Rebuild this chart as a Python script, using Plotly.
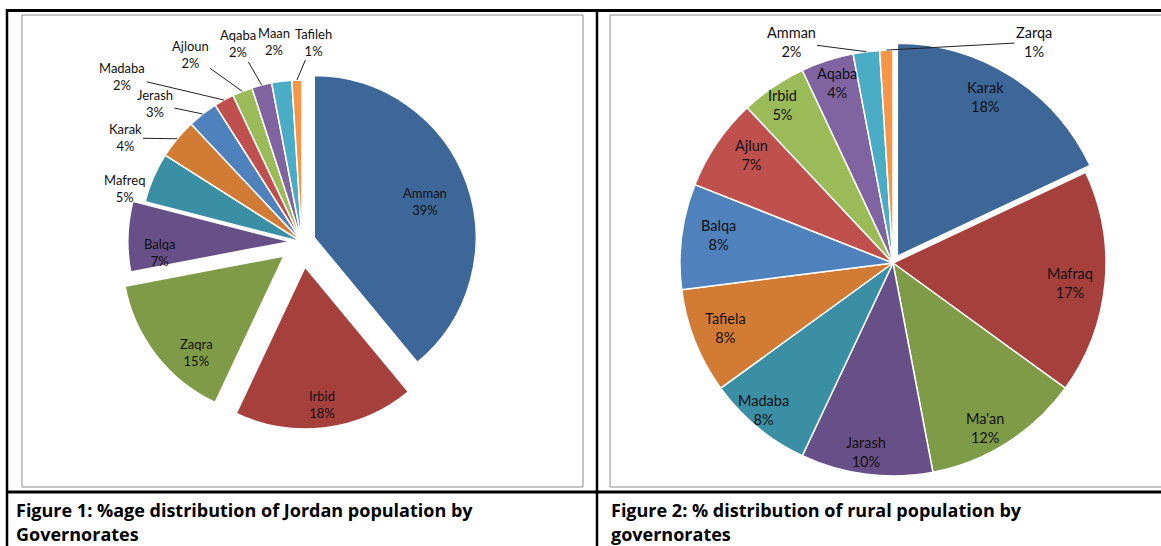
import math
import plotly.graph_objects as go

W, H = 1161, 546

# ---------------- data ----------------
left_labels = ["Amman", "Irbid", "Zaqra", "Balqa", "Mafreq", "Karak", "Jerash",
               "Madaba", "Ajloun", "Aqaba", "Maan", "Tafileh"]
left_values = [39, 18, 15, 7, 5, 4, 3, 2, 2, 2, 2, 1]

right_labels = ["Karak", "Mafraq", "Ma'an", "Jarash", "Madaba", "Tafiela", "Balqa",
                "Ajlun", "Irbid", "Aqaba", "Amman", "Zarqa"]
right_values = [18, 17, 12, 10, 8, 8, 8, 7, 5, 4, 2, 1]

caption1 = ["Figure 1: %age distribution of Jordan population by", "Governorates"]
caption2 = ["Figure 2: % distribution of rural population by", "governorates"]

# ---------------- style ----------------
left_pull = [0.08, 0.155, 0.14, 0.075, 0, 0, 0, 0, 0, 0, 0, 0]
right_pull = [0.038, 0, 0, 0, 0, 0, 0, 0, 0, 0, 0, 0]

dark = ["#3D6798", "#A5403D", "#7F9B48", "#674F87", "#3A8FA5", "#D27B34"]
std = ["#4F81BD", "#C0504D", "#9BBB59", "#8064A2", "#4BACC6", "#F79646"]
colors = dark + std

FONT = "Lato"
CAP_FONT = "Open Sans"
L_CX, L_CY, L_R = 302, 242, 162
R_CX, R_CY, R_R = 893, 263, 213

# label centres (px) and whether a leader line to the slice is drawn
left_lab_pos = {
    "Amman": (425, 201, False),
    "Irbid": (322, 404, False),
    "Zaqra": (196, 352, False),
    "Balqa": (160, 252, False),
    "Mafreq": (124, 188, False),
    "Karak": (125, 138, True),
    "Jerash": (155, 104, True),
    "Madaba": (122, 76, True),
    "Ajloun": (190, 54, True),
    "Aqaba": (238, 44, True),
    "Maan": (274, 42, False),
    "Tafileh": (313, 42, True),
}
right_lab_pos = {
    "Karak": (985, 97, False),
    "Mafraq": (1070, 283, False),
    "Ma'an": (985, 428, False),
    "Jarash": (866, 452, False),
    "Madaba": (763, 410, False),
    "Tafiela": (725, 328, False),
    "Balqa": (718, 235, False),
    "Ajlun": (751, 155, False),
    "Irbid": (782, 105, False),
    "Aqaba": (837, 83, False),
    "Amman": (791, 42, True),
    "Zarqa": (1034, 42, True),
}


def px(x):
    return x / W


def py(y):
    return 1 - y / H


def pie_domain(cx, cy, r, pulls):
    half = r * (1 + max(pulls))
    return dict(x=[px(cx - half), px(cx + half)], y=[py(cy + half), py(cy - half)])


def edge_point(values, idx, cx, cy, r, pulls):
    total = sum(values)
    frac = (sum(values[:idx]) + values[idx] / 2) / total
    a = 2 * math.pi * frac
    rr = r * (1 + pulls[idx])
    return cx + rr * math.sin(a), cy - rr * math.cos(a)


fig = go.Figure()

for labels, values, pulls, cx, cy, r in (
        (left_labels, left_values, left_pull, L_CX, L_CY, L_R),
        (right_labels, right_values, right_pull, R_CX, R_CY, R_R)):
    fig.add_trace(go.Pie(
        labels=labels, values=values, sort=False, direction="clockwise",
        rotation=0, pull=pulls,
        marker=dict(colors=colors, line=dict(color="white", width=1.5)),
        textinfo="none",
        domain=pie_domain(cx, cy, r, pulls),
        showlegend=False, hoverinfo="label+value",
    ))

annotations = []


def add_labels(labels, values, pulls, cx, cy, r, spec, size):
    for i, lab in enumerate(labels):
        lx, ly, arrow = spec[lab]
        text = f"{lab}<br>{values[i]}%"
        font = dict(family=FONT, size=size, color="#111111")
        if arrow:
            tx, ty = edge_point(values, i, cx, cy, r, pulls)
            annotations.append(dict(
                x=px(tx), y=py(ty), xref="paper", yref="paper",
                ax=lx - tx, ay=ly - ty, axref="pixel", ayref="pixel",
                text=text, showarrow=True, arrowhead=0, arrowwidth=1,
                arrowcolor="#222222", font=font, align="center"))
        else:
            annotations.append(dict(
                x=px(lx), y=py(ly), xref="paper", yref="paper",
                xanchor="center", yanchor="middle", text=text, showarrow=False,
                font=font, align="center"))


add_labels(left_labels, left_values, left_pull, L_CX, L_CY, L_R, left_lab_pos, 13)
add_labels(right_labels, right_values, right_pull, R_CX, R_CY, R_R, right_lab_pos, 14.5)

for x0, cap in ((14, caption1), (609, caption2)):
    for k, line in enumerate(cap):
        annotations.append(dict(
            x=px(x0), y=py(510 + 24 * k), xref="paper", yref="paper",
            xanchor="left", yanchor="middle", text=f"<b>{line}</b>", showarrow=False,
            font=dict(family=CAP_FONT, size=18, color="#000000")))

shapes = [
    # chart frames
    dict(type="rect", xref="paper", yref="paper", x0=px(22), x1=px(583), y0=py(487), y1=py(15),
         line=dict(color="#8C8C8C", width=1)),
    dict(type="rect", xref="paper", yref="paper", x0=px(610), x1=px(1175), y0=py(487), y1=py(15),
         line=dict(color="#8C8C8C", width=1)),
    # table lines
    dict(type="line", xref="paper", yref="paper", x0=px(6), x1=1, y0=py(10.5), y1=py(10.5),
         line=dict(color="black", width=3)),
    dict(type="line", xref="paper", yref="paper", x0=px(7), x1=px(7), y0=py(9), y1=0,
         line=dict(color="black", width=2.5)),
    dict(type="line", xref="paper", yref="paper", x0=px(597), x1=px(597), y0=py(9), y1=0,
         line=dict(color="black", width=2.5)),
    dict(type="line", xref="paper", yref="paper", x0=px(6), x1=1, y0=py(492), y1=py(492),
         line=dict(color="black", width=3)),
]

fig.update_layout(
    width=W, height=H, margin=dict(l=0, r=0, t=0, b=0),
    paper_bgcolor="white", plot_bgcolor="white",
    annotations=annotations, shapes=shapes,
)

fig.write_html("out.html")
